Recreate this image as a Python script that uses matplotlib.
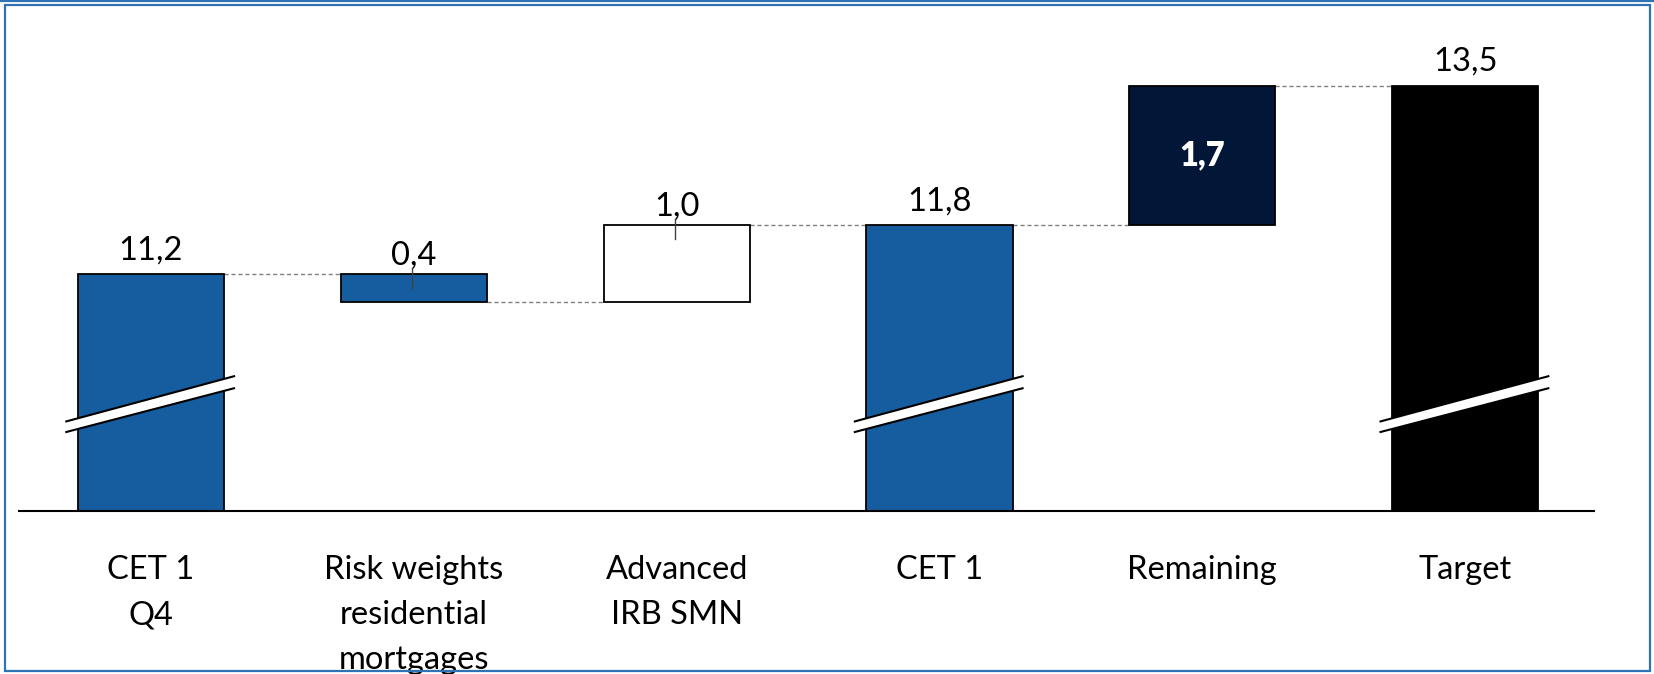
import matplotlib
matplotlib.use("Agg")
import matplotlib.pyplot as plt
from matplotlib.patches import Polygon, Rectangle
from matplotlib.lines import Line2D

# ---- data ----
categories = ["CET 1\nQ4", "Risk weights\nresidential\nmortgages", "Advanced\nIRB SMN",
              "CET 1", "Remaining", "Target"]
kinds = ["total", "delta", "delta", "total", "delta", "total"]
values = [11.2, -0.34, 0.94, 11.8, 1.7, 13.5]
value_labels = ["11,2", "0,4", "1,0", "11,8", "1,7", "13,5"]
colors = ["#155D9F", "#155D9F", "#FFFFFF", "#155D9F", "#021738", "#000000"]
broken = [True, False, False, True, False, True]

# ---- layout ----
W, H, DPI = 1654, 674, 100
fig = plt.figure(figsize=(W / DPI, H / DPI), dpi=DPI)
plt.rcParams['font.family'] = ['Lato', 'DejaVu Sans']

ax = fig.add_axes([19 / W, (H - 510.7) / H, (1594 - 19) / W, (510.7 - 5) / H])
YMIN, YMAX = 8.318, 14.488
ax.set_xlim(-0.502, 5.49)
ax.set_ylim(YMIN, YMAX)
for s in ["top", "right", "left"]:
    ax.spines[s].set_visible(False)
ax.spines["bottom"].set_linewidth(1.5)
ax.spines["bottom"].set_zorder(5)
ax.set_xticks([])
ax.set_yticks([])
ax.patch.set_alpha(0)

BW = 0.556
BREAK_AT = 9.61
running = 0.0
bars = []  # (bottom, top)
for i, (k, v) in enumerate(zip(kinds, values)):
    if k == "total":
        bottom, top = YMIN, v
        running = v
    else:
        start = running
        running = running + v
        bottom, top = min(start, running), max(start, running)
    bars.append((bottom, top))
    ax.bar(i, top - bottom, bottom=bottom, width=BW, color=colors[i],
           edgecolor="black", linewidth=1.3, zorder=3)

# connectors
levels = []
running = 0.0
for i, (k, v) in enumerate(zip(kinds, values)):
    running = v if k == "total" else running + v
    levels.append(running)
for i in range(len(values) - 1):
    y = levels[i]
    ax.plot([i + BW / 2, i + 1 - BW / 2], [y, y], color="#808080", lw=1.0,
            linestyle=(0, (3, 2)), zorder=2)

# break marks
dx_l, dx_r = 0.048, 0.042
for i, b in enumerate(broken):
    if not b:
        continue
    xl, xr = i - BW / 2 - dx_l, i + BW / 2 + dx_r
    top_l, top_r = BREAK_AT - 0.206, BREAK_AT + 0.352
    bot_l, bot_r = BREAK_AT - 0.335, BREAK_AT + 0.205
    ax.add_patch(Polygon([[xl, top_l], [xr, top_r], [xr, bot_r], [xl, bot_l]],
                         closed=True, facecolor="white", edgecolor="none", zorder=4))
    ax.plot([xl, xr], [top_l, top_r], color="black", lw=1.5, zorder=4.5,
            solid_capstyle="butt")
    ax.plot([xl, xr], [bot_l, bot_r], color="black", lw=1.5, zorder=4.5,
            solid_capstyle="butt")

# value labels
for i, (k, lab) in enumerate(zip(kinds, value_labels)):
    bottom, top = bars[i]
    if colors[i] == "#021738":
        ax.text(i, (bottom + top) / 2, lab, ha="center", va="center",
                fontsize=23.5, fontweight="heavy", color="white", zorder=6)
    elif k == "total":
        ax.annotate(lab, (i, top), xytext=(0, 10.8), textcoords="offset points",
                    ha="center", va="baseline", fontsize=23.5, color="black",
                    zorder=6)
    else:
        ax.annotate(lab, (i, top), xytext=(0, 7), textcoords="offset points",
                    ha="center", va="baseline", fontsize=23.5, color="black",
                    zorder=6)
        ax.plot([i - 0.005, i - 0.005], [top + 0.08, top - 0.17], color="#404040",
                lw=1.0, zorder=6)

# category labels
for i, c in enumerate(categories):
    ax.annotate(c, (i, 0), xycoords=("data", "axes fraction"), xytext=(0, -32),
                textcoords="offset points", ha="center", va="top", fontsize=23.5,
                linespacing=1.63, color="black", annotation_clip=False)

# figure border
fig.add_artist(Rectangle((5 / W, (H - 671) / H), (1650 - 5) / W, (671 - 5) / H,
                         transform=fig.transFigure, fill=False,
                         edgecolor="#2E74B5", linewidth=1.6, zorder=20))
fig.add_artist(Line2D([0, 1], [1 - 1 / H, 1 - 1 / H], transform=fig.transFigure,
                      color="#2E74B5", linewidth=1.6, zorder=20))

fig.savefig("out.png", dpi=DPI)
